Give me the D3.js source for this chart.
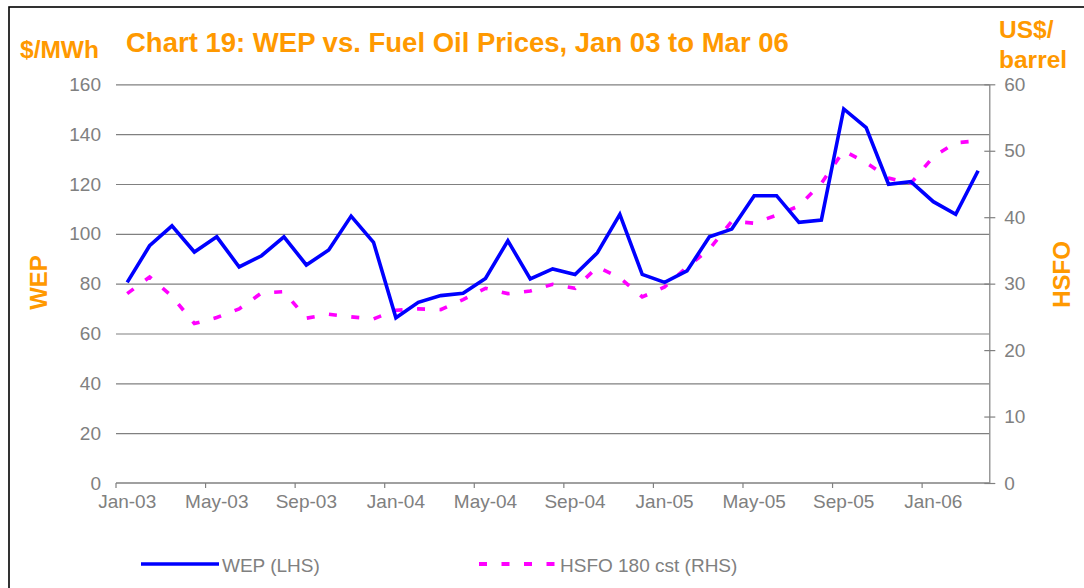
<!DOCTYPE html>
<html>
<head>
<meta charset="utf-8">
<script src="https://cdn.jsdelivr.net/npm/d3@7"></script>
<style>
  html, body { margin: 0; padding: 0; background: #fff; }
  svg { display: block; font-family: "Liberation Sans", Arial, sans-serif; }
</style>
</head>
<body>
<svg id="chart" width="1084" height="588"></svg>
<script>
// ---- Data ----
const months = [
  "Jan-03","Feb-03","Mar-03","Apr-03","May-03","Jun-03","Jul-03","Aug-03","Sep-03","Oct-03","Nov-03","Dec-03",
  "Jan-04","Feb-04","Mar-04","Apr-04","May-04","Jun-04","Jul-04","Aug-04","Sep-04","Oct-04","Nov-04","Dec-04",
  "Jan-05","Feb-05","Mar-05","Apr-05","May-05","Jun-05","Jul-05","Aug-05","Sep-05","Oct-05","Nov-05","Dec-05",
  "Jan-06","Feb-06","Mar-06"
];
const wep = [
  80.5, 95.2, 103.2, 92.7, 98.8, 86.7, 91.2, 98.8, 87.5, 93.5, 107.1, 96.6,
  66.3, 72.5, 75.2, 76.1, 82.1, 97.2, 81.9, 85.9, 83.7, 92.4, 107.8, 83.7,
  80.5, 85.1, 98.8, 101.9, 115.3, 115.3, 104.6, 105.5, 150.1, 142.6, 119.9, 120.9,
  112.9, 107.8, 125.3
];
const hsfo = [
  28.5, 31.0, 28.1, 24.0, 24.9, 26.2, 28.6, 28.8, 24.8, 25.4, 25.0, 24.7,
  26.0, 26.2, 26.1, 27.6, 29.3, 28.5, 28.9, 29.9, 29.3, 32.5, 30.9, 28.0,
  29.5, 32.5, 35.2, 39.4, 39.1, 40.3, 41.7, 45.1, 50.0, 48.2, 45.9, 45.1,
  49.1, 51.2, 51.5
];
const xTickLabels = ["Jan-03","May-03","Sep-03","Jan-04","May-04","Sep-04","Jan-05","May-05","Sep-05","Jan-06"];
const leftTicks = [0, 20, 40, 60, 80, 100, 120, 140, 160];
const rightTicks = [0, 10, 20, 30, 40, 50, 60];
const seriesNames = ["WEP (LHS)", "HSFO 180 cst (RHS)"];

// ---- Layout ----
const plot = { left: 116, right: 989.3, top: 84.3, bottom: 483 };
const ORANGE = "#FF9900", GRAY = "#808080", BLUE = "#0000FF", PINK = "#FF00FF";

const svg = d3.select("#chart");

// frame
svg.append("rect").attr("x", 9).attr("y", 7).attr("width", 1100).attr("height", 620)
  .attr("fill", "none").attr("stroke", "#000").attr("stroke-width", 1.6);

const x = d3.scaleBand().domain(months).range([plot.left, plot.right]).padding(0);
const yL = d3.scaleLinear().domain([0, 160]).range([plot.bottom, plot.top]);
const yR = d3.scaleLinear().domain([0, 60]).range([plot.bottom, plot.top]);
const bw = x.bandwidth();

// gridlines
const grid = svg.append("g").attr("transform", `translate(${plot.left},0)`)
  .call(d3.axisLeft(yL).tickValues(leftTicks.filter(v => v > 0)).tickSize(-(plot.right - plot.left)).tickFormat(""));
grid.select(".domain").remove();
grid.selectAll("line").attr("stroke", GRAY).attr("stroke-width", 1.2);

// left axis labels
const gL = svg.append("g").attr("transform", `translate(${plot.left},0)`)
  .call(d3.axisLeft(yL).tickValues(leftTicks).tickSize(0).tickPadding(15));
gL.select(".domain").remove();
gL.selectAll("text").attr("fill", GRAY).style("font-size", "19px");

// right axis
const gR = svg.append("g").attr("transform", `translate(${plot.right},0)`)
  .call(d3.axisRight(yR).tickValues(rightTicks).tickSizeInner(6).tickSizeOuter(0).tickPadding(9));
gR.select(".domain").attr("stroke", GRAY).attr("stroke-width", 1.2);
gR.selectAll(".tick line").attr("x1", -5).attr("x2", 6).attr("stroke", GRAY).attr("stroke-width", 1.2);
gR.selectAll("text").attr("fill", GRAY).style("font-size", "19px");

// bottom axis (labels centered on categories)
const gB = svg.append("g").attr("transform", `translate(0,${plot.bottom})`)
  .call(d3.axisBottom(x).tickValues(xTickLabels).tickSize(0).tickPadding(11.5));
gB.select(".domain").remove();
gB.selectAll("text").attr("fill", GRAY).style("font-size", "19px");
// axis line and tick marks at category boundaries
svg.append("line").attr("x1", plot.left).attr("x2", plot.right)
  .attr("y1", plot.bottom).attr("y2", plot.bottom).attr("stroke", GRAY).attr("stroke-width", 1.4);
svg.append("g").selectAll("line").data(xTickLabels).join("line")
  .attr("x1", d => x(d)).attr("x2", d => x(d))
  .attr("y1", plot.bottom).attr("y2", plot.bottom + 5)
  .attr("stroke", GRAY).attr("stroke-width", 1.2);

// lines
const lineL = d3.line().x((d, i) => x(months[i]) + bw / 2).y(d => yL(d));
const lineR = d3.line().x((d, i) => x(months[i]) + bw / 2).y(d => yR(d));

svg.append("path").datum(hsfo).attr("d", lineR)
  .attr("fill", "none").attr("stroke", PINK).attr("stroke-width", 3.6)
  .attr("stroke-dasharray", "8,14.5");
svg.append("path").datum(wep).attr("d", lineL)
  .attr("fill", "none").attr("stroke", BLUE).attr("stroke-width", 3.6)
  .attr("stroke-linejoin", "miter");

// titles
svg.append("text").attr("x", 126).attr("y", 52).text("Chart 19: WEP vs. Fuel Oil Prices, Jan 03 to Mar 06")
  .attr("fill", ORANGE).style("font-size", "27.5px").style("font-weight", "bold");
svg.append("text").attr("x", 20).attr("y", 58).text("$/MWh")
  .attr("fill", ORANGE).style("font-size", "24.5px").style("font-weight", "bold");
svg.append("text").attr("x", 999).attr("y", 38).text("US$/")
  .attr("fill", ORANGE).style("font-size", "24.5px").style("font-weight", "bold");
svg.append("text").attr("x", 999).attr("y", 68).text("barrel")
  .attr("fill", ORANGE).style("font-size", "24.5px").style("font-weight", "bold");
svg.append("text").attr("transform", "translate(47,282.5) rotate(-90)").attr("text-anchor", "middle").text("WEP")
  .attr("fill", ORANGE).style("font-size", "24px").style("font-weight", "bold");
svg.append("text").attr("transform", "translate(1070,274.5) rotate(-90)").attr("text-anchor", "middle").text("HSFO")
  .attr("fill", ORANGE).style("font-size", "24px").style("font-weight", "bold");

// legend
const leg = svg.append("g");
leg.append("line").attr("x1", 141).attr("x2", 219).attr("y1", 564).attr("y2", 564)
  .attr("stroke", BLUE).attr("stroke-width", 3.6);
leg.append("text").attr("x", 222).attr("y", 571.5).text(seriesNames[0])
  .attr("fill", GRAY).style("font-size", "19px");
leg.append("line").attr("x1", 479).attr("x2", 556).attr("y1", 564).attr("y2", 564)
  .attr("stroke", PINK).attr("stroke-width", 4).attr("stroke-dasharray", "8,14.5");
leg.append("text").attr("x", 560).attr("y", 571.5).text(seriesNames[1])
  .attr("fill", GRAY).style("font-size", "19px");
</script>
</body>
</html>
